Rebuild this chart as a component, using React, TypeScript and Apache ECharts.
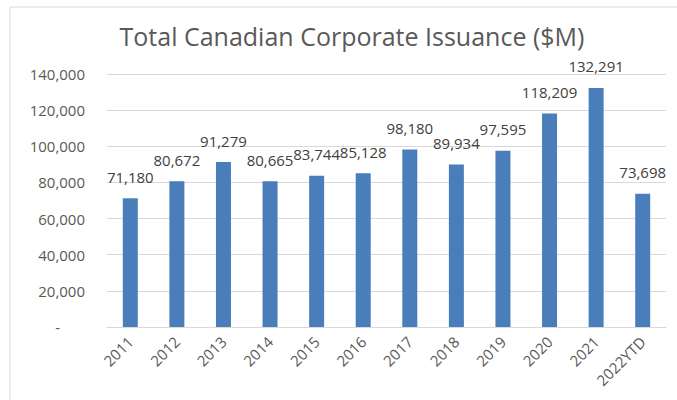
import React, { useEffect, useRef } from "react";
import * as echarts from "echarts";

const categories = ["2011", "2012", "2013", "2014", "2015", "2016", "2017", "2018", "2019", "2020", "2021", "2022YTD"];
const issuance = [71180, 80672, 91279, 80665, 83744, 85128, 98180, 89934, 97595, 118209, 132291, 73698];
const titleText = "Total Canadian Corporate Issuance ($M)";

const FONT = "'Open Sans', 'Liberation Sans', sans-serif";

export default function App() {
  const ref = useRef<HTMLDivElement>(null);
  useEffect(() => {
    if (!ref.current) return;
    const chart = echarts.init(ref.current, undefined, { renderer: "svg" });
    chart.setOption({
      animation: false,
      backgroundColor: "#ffffff",
      title: {
        text: titleText,
        left: 347,
        textAlign: "center",
        top: 18,
        textStyle: { fontFamily: FONT, fontSize: 25, fontWeight: "normal", color: "#595959" },
      },
      graphic: [
        {
          type: "rect",
          shape: { x: 10, y: 7, width: 700, height: 420 },
          style: { fill: "none", stroke: "#d9d9d9", lineWidth: 1 },
          silent: true,
        },
      ],
      grid: { left: 107, right: 11, top: 74, bottom: 73 },
      xAxis: {
        type: "category",
        data: categories,
        axisLine: { lineStyle: { color: "#d9d9d9", width: 1 } },
        axisTick: { show: false },
        axisLabel: {
          rotate: 45,
          margin: 12,
          color: "#595959",
          fontFamily: FONT,
          fontSize: 15,
          interval: 0,
        },
      },
      yAxis: {
        type: "value",
        min: 0,
        max: 140000,
        interval: 20000,
        axisLine: { show: false },
        axisTick: { show: false },
        splitLine: { lineStyle: { color: "#d9d9d9", width: 1 } },
        axisLabel: {
          margin: 22,
          color: "#595959",
          fontFamily: FONT,
          fontSize: 15,
          formatter: (v: number) => (v === 0 ? "{d|-}" : v.toLocaleString("en-US")),
          rich: { d: { padding: [0, 25, 0, 0], color: "#595959", fontFamily: FONT, fontSize: 15 } },
        },
      },
      series: [
        {
          type: "bar",
          data: issuance,
          barWidth: 15,
          itemStyle: { color: "#4a7ebb" },
          label: {
            show: true,
            position: "top",
            distance: 14,
            color: "#404040",
            fontFamily: FONT,
            fontSize: 15,
            formatter: (p: any) => Number(p.value).toLocaleString("en-US"),
          },
        },
      ],
    });
    return () => chart.dispose();
  }, []);
  return <div ref={ref} style={{ position: "fixed", left: 0, top: 0, width: 677, height: 400 }} />;
}
